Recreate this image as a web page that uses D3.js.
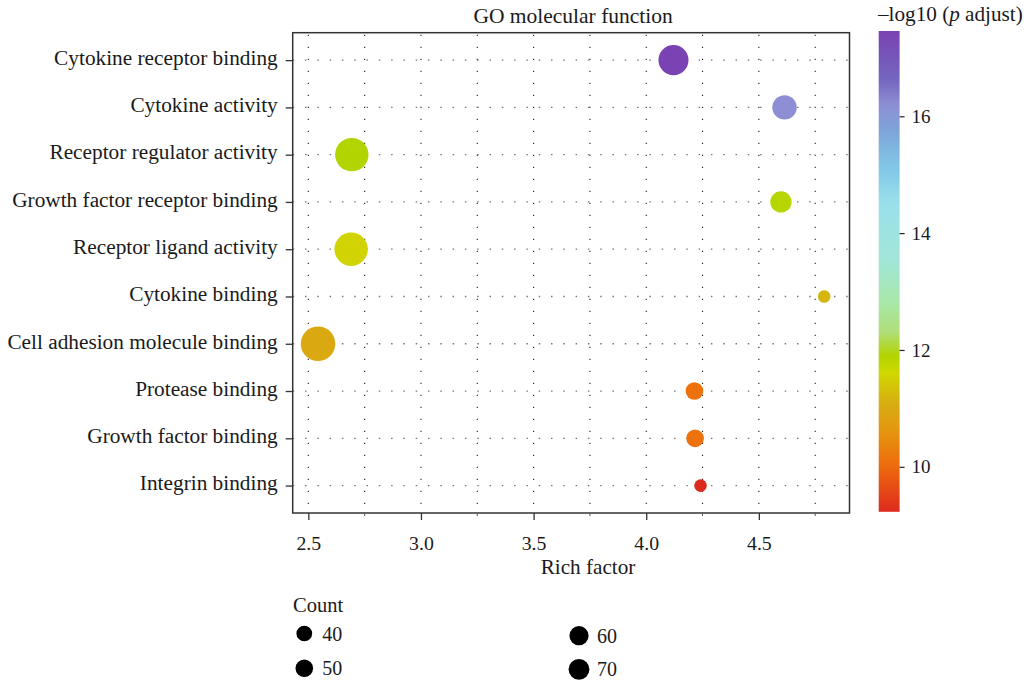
<!DOCTYPE html>
<html><head><meta charset="utf-8">
<script src="https://cdn.jsdelivr.net/npm/d3@7"></script>
<style>
body{margin:0;background:#fff;}
text{font-family:"Liberation Serif","DejaVu Serif",serif;fill:#1a1a1a;}
</style></head>
<body>
<svg id="chart" width="1027" height="682"></svg>
<script>
// ---- data ----
const categories = ["Cytokine receptor binding","Cytokine activity","Receptor regulator activity",
  "Growth factor receptor binding","Receptor ligand activity","Cytokine binding",
  "Cell adhesion molecule binding","Protease binding","Growth factor binding","Integrin binding"];
const richFactor = [4.121, 4.614, 2.693, 4.598, 2.690, 4.790, 2.543, 4.214, 4.217, 4.241];
const counts     = [60, 47, 70, 42, 70, 36, 74, 38, 38, 36];
const negLogP    = [17.46, 16.2, 11.9, 11.85, 11.55, 11.2, 11.0, 10.1, 10.1, 9.23];
const xTicks = [2.5, 3.0, 3.5, 4.0, 4.5];
const xMinorTicks = [2.75, 3.25, 3.75, 4.25, 4.75];
const colorTicks = [10, 12, 14, 16];
const sizeLegendCounts = [40, 50, 60, 70];
const colorStopValues = [9.23, 10.0, 10.6, 11.1, 11.6, 11.9, 12.3, 12.8, 13.5, 14.5, 15.1, 15.8, 16.2, 16.6, 17.46];
const colorStopColors = ["#dd2a1e","#ee6a0c","#e59510","#d7ae12","#d0d800","#b2d400","#b0de78","#a8e8a8",
  "#a2e6d8","#9ae0ea","#82c8e8","#7ea2d8","#8e8ed4","#7468c0","#7a42b2"];

const data = categories.map((c,i)=>({cat:c, x:richFactor[i], n:counts[i], p:negLogP[i]}));

const svg = d3.select("#chart");
const P = {left:292.7, right:849.5, top:32.7, bottom:513};

// scales
const xExt = d3.extent(richFactor);
const pad = (xExt[1]-xExt[0])*0.05;
const x = d3.scaleLinear().domain([xExt[0]-pad, xExt[1]+pad]).range([P.left, P.right]);
const y = d3.scalePoint().domain(categories).range([P.top, P.bottom]).padding(0.58);
const color = d3.scaleLinear().domain(colorStopValues).range(colorStopColors).interpolate(d3.interpolateRgb);
const cExt = d3.extent(negLogP);
const nExt = d3.extent(counts);
const rNorm = d3.scaleLinear().domain(nExt).range([0,1]);
const rLin = d3.scaleLinear().domain([0,1]).range([6.3,17.3]);
const r = n => rLin(Math.sqrt(rNorm(n)));
const rLegend = d3.scaleSqrt().domain([0,70]).range([0,10.4]);

// grid
const grid = svg.append("g");
grid.selectAll("line.v").data(xTicks.concat(xMinorTicks)).join("line")
  .attr("x1",d=>x(d)).attr("x2",d=>x(d)).attr("y1",P.top+2).attr("y2",P.bottom)
  .attr("stroke","#222").attr("stroke-width",1.1).attr("stroke-dasharray","1.2,10.8");
grid.selectAll("line.h").data(categories).join("line")
  .attr("x1",P.left).attr("x2",P.right).attr("y1",d=>y(d)).attr("y2",d=>y(d))
  .attr("stroke","#777").attr("stroke-width",1.3).attr("stroke-dasharray","1.5,10.8");

// points
svg.append("g").selectAll("circle").data(data).join("circle")
  .attr("cx",d=>x(d.x)).attr("cy",d=>y(d.cat)).attr("r",d=>r(d.n))
  .attr("fill",d=>color(d.p));

// panel border
svg.append("rect").attr("x",P.left).attr("y",P.top).attr("width",P.right-P.left).attr("height",P.bottom-P.top)
  .attr("fill","none").attr("stroke","#333").attr("stroke-width",1.5);

// x axis
const xAxis = svg.append("g").attr("transform",`translate(0,${P.bottom})`)
  .call(d3.axisBottom(x).tickValues(xTicks).tickFormat(d3.format(".1f")).tickSize(7).tickPadding(16));
xAxis.select(".domain").remove();
xAxis.selectAll("line").attr("stroke","#333").attr("stroke-width",1.3);
xAxis.selectAll("text").style("font-size","19.8px").attr("fill","#1a1a1a");
svg.append("g").selectAll("line").data(xMinorTicks).join("line")
  .attr("x1",d=>x(d)).attr("x2",d=>x(d)).attr("y1",P.bottom).attr("y2",P.bottom+3)
  .attr("stroke","#555").attr("stroke-width",1);

// y axis
const yAxis = svg.append("g").attr("transform",`translate(${P.left},0)`)
  .call(d3.axisLeft(y).tickSize(7).tickPadding(8));
yAxis.select(".domain").remove();
yAxis.selectAll("line").attr("stroke","#333").attr("stroke-width",1.3);
yAxis.selectAll("text").style("font-size","21.3px").attr("dy","0.2em").attr("fill","#1a1a1a");

// titles
svg.append("text").attr("x",(P.left+P.right)/2+2).attr("y",23).attr("text-anchor","middle").style("font-size","21.5px").text("GO molecular function");
svg.append("text").attr("x",588).attr("y",574).attr("text-anchor","middle").style("font-size","21.2px").text("Rich factor");

// colorbar
const cb = {x:878.7, w:20.9, top:31, bottom:511.8};
const cy = d3.scaleLinear().domain(cExt).range([cb.bottom, cb.top]);
const defs = svg.append("defs");
const grad = defs.append("linearGradient").attr("id","cbgrad").attr("x1",0).attr("x2",0).attr("y1",1).attr("y2",0);
const nStops = 80;
d3.range(nStops+1).forEach(i=>{
  const v = cExt[0] + (cExt[1]-cExt[0])*i/nStops;
  grad.append("stop").attr("offset",(i/nStops*100)+"%").attr("stop-color",color(v));
});
svg.append("rect").attr("x",cb.x).attr("y",cb.top).attr("width",cb.w).attr("height",cb.bottom-cb.top).attr("fill","url(#cbgrad)");
const cAxis = svg.append("g").attr("transform",`translate(${cb.x+cb.w},0)`)
  .call(d3.axisRight(cy).tickValues(colorTicks).tickSize(5).tickPadding(7));
cAxis.select(".domain").remove();
cAxis.selectAll("line").attr("stroke","#222").attr("stroke-width",1.2);
cAxis.selectAll("text").style("font-size","19px").attr("fill","#1a1a1a");
const ct = svg.append("text").attr("x",878).attr("y",21).style("font-size","21.2px");
ct.append("tspan").text("\u2013log10 (");
ct.append("tspan").style("font-style","italic").text("p");
ct.append("tspan").text(" adjust)");

// size legend
svg.append("text").attr("x",293).attr("y",612).style("font-size","20.5px").text("Count");
const legPos = [{cx:304.3, cy:633.5},{cx:304.3,cy:668.3},{cx:579,cy:635.7},{cx:579,cy:669.3}];
const lg = svg.append("g").selectAll("g").data(sizeLegendCounts).join("g")
  .attr("transform",(d,i)=>`translate(${legPos[i].cx},${legPos[i].cy})`);
lg.append("circle").attr("r",d=>rLegend(d)).attr("fill","#000");
lg.append("text").attr("x",18).attr("dy","0.35em").style("font-size","20px").text(d=>d);
</script>
</body></html>
